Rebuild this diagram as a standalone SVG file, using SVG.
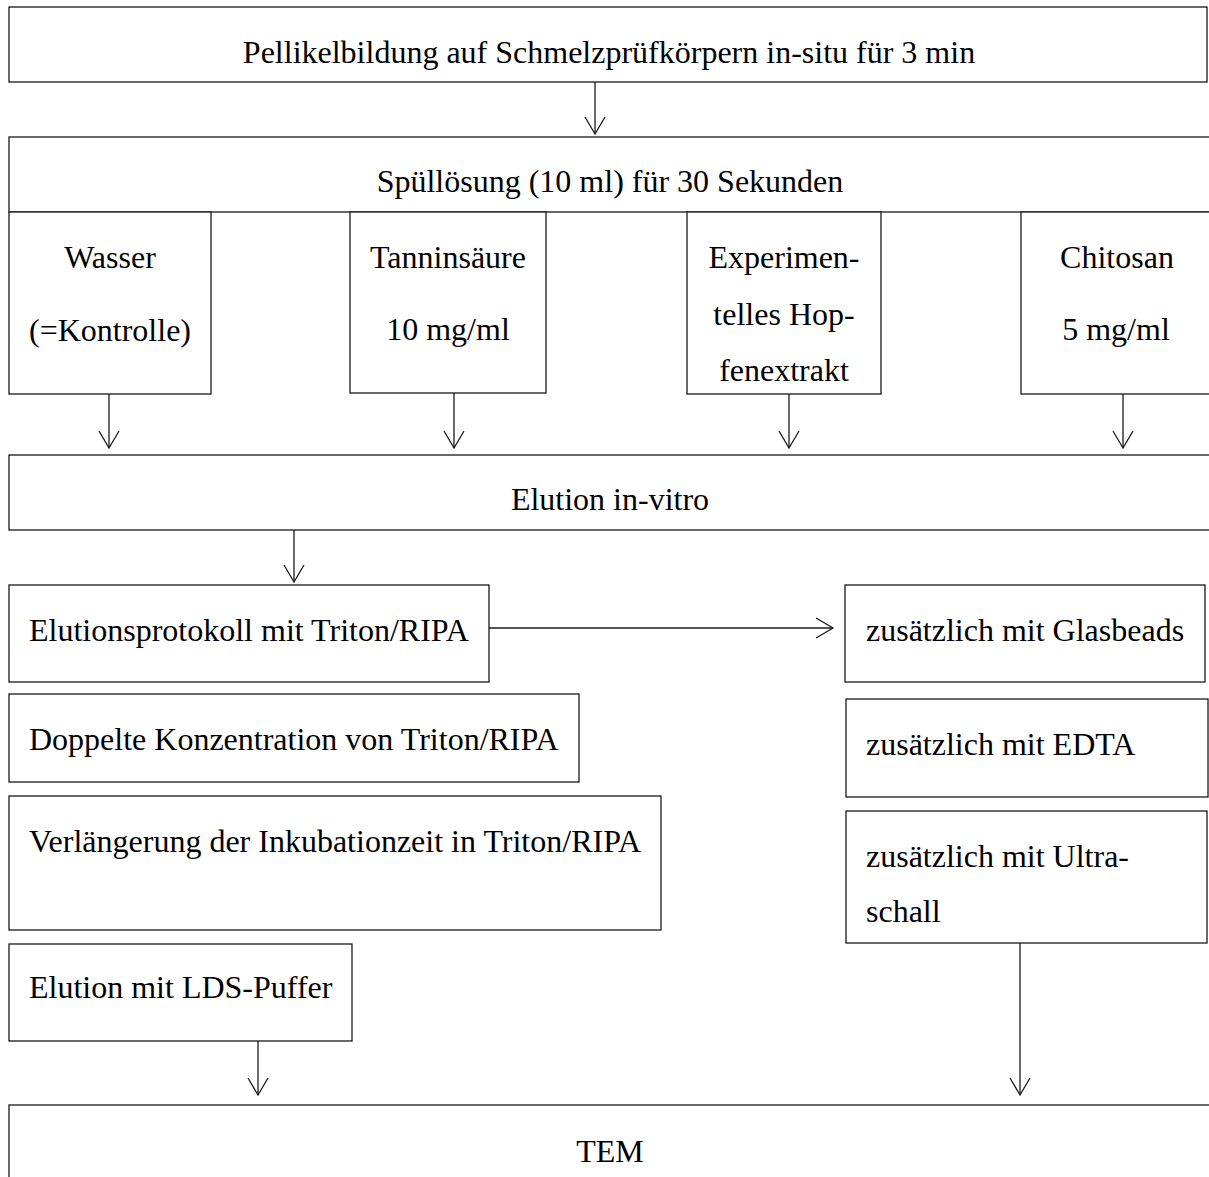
<svg xmlns="http://www.w3.org/2000/svg" width="1209" height="1177" viewBox="0 0 1209 1177">
<style>
  .box { fill: #ffffff; stroke: #1a1a1a; stroke-width: 1.3; }
  .t { font-family: "Liberation Serif", "Times New Roman", serif; font-size: 32px; fill: #000; }
  .c { text-anchor: middle; }
  .conn { stroke: #1a1a1a; stroke-width: 1.3; fill: none; marker-end: url(#arr); }
</style>
<defs>
  <marker id="arr" markerUnits="userSpaceOnUse" markerWidth="22" markerHeight="24" viewBox="-19 -12 22 24" refX="0" refY="0" orient="auto">
    <path d="M-17,-10 L0,0 L-17,10" fill="none" stroke="#1a1a1a" stroke-width="1.3"/>
  </marker>
</defs>
<rect width="1209" height="1177" fill="#ffffff"/>

<g id="n-pellikel">
  <rect class="box" x="9" y="7" width="1198" height="75"/>
  <text class="t c" x="609" y="63">Pellikelbildung auf Schmelzprüfkörpern in-situ für 3 min</text>
</g>
<g id="n-spuel">
  <rect class="box" x="9" y="137" width="1210" height="75"/>
  <text class="t c" x="610" y="192">Spüllösung (10 ml) für 30 Sekunden</text>
</g>
<g id="n-wasser">
  <rect class="box" x="9" y="212" width="202" height="182"/>
  <text class="t c" x="110" y="268">Wasser</text>
  <text class="t c" x="110" y="341">(=Kontrolle)</text>
</g>
<g id="n-tannin">
  <rect class="box" x="350" y="212" width="196" height="181"/>
  <text class="t c" x="448" y="268">Tanninsäure</text>
  <text class="t c" x="448" y="340">10 mg/ml</text>
</g>
<g id="n-hopfen">
  <rect class="box" x="687" y="212" width="194" height="182"/>
  <text class="t c" x="784" y="268">Experimen-</text>
  <text class="t c" x="784" y="325">telles Hop-</text>
  <text class="t c" x="784" y="381">fenextrakt</text>
</g>
<g id="n-chitosan">
  <rect class="box" x="1021" y="212" width="200" height="182"/>
  <text class="t c" x="1117" y="268">Chitosan</text>
  <text class="t c" x="1116" y="340">5 mg/ml</text>
</g>
<g id="n-elution">
  <rect class="box" x="9" y="455" width="1210" height="75"/>
  <text class="t c" x="610" y="510">Elution in-vitro</text>
</g>
<g id="n-triton">
  <rect class="box" x="9" y="585" width="480" height="97"/>
  <text class="t" x="29" y="641">Elutionsprotokoll mit Triton/RIPA</text>
</g>
<g id="n-doppelt">
  <rect class="box" x="9" y="694" width="570" height="88"/>
  <text class="t" x="29" y="750">Doppelte Konzentration von Triton/RIPA</text>
</g>
<g id="n-verlaengerung">
  <rect class="box" x="9" y="796" width="652" height="134"/>
  <text class="t" x="29" y="852">Verlängerung der Inkubationzeit in Triton/RIPA</text>
</g>
<g id="n-lds">
  <rect class="box" x="9" y="944" width="343" height="97"/>
  <text class="t" x="29" y="998">Elution mit LDS-Puffer</text>
</g>
<g id="n-glasbeads">
  <rect class="box" x="845" y="585" width="360" height="97"/>
  <text class="t" x="866" y="641">zusätzlich mit Glasbeads</text>
</g>
<g id="n-edta">
  <rect class="box" x="846" y="699" width="362" height="98"/>
  <text class="t" x="866" y="755">zusätzlich mit EDTA</text>
</g>
<g id="n-ultraschall">
  <rect class="box" x="846" y="811" width="361" height="132"/>
  <text class="t" x="866" y="867">zusätzlich mit Ultra-</text>
  <text class="t" x="866" y="922">schall</text>
</g>
<g id="n-tem">
  <rect class="box" x="9" y="1105" width="1210" height="90"/>
  <text class="t c" x="610" y="1162">TEM</text>
</g>

<g id="connectors">
  <line class="conn" x1="595" y1="82" x2="595" y2="134"/>
  <line class="conn" x1="109" y1="394" x2="109" y2="448"/>
  <line class="conn" x1="454" y1="393" x2="454" y2="448"/>
  <line class="conn" x1="789" y1="394" x2="789" y2="448"/>
  <line class="conn" x1="1123" y1="394" x2="1123" y2="448"/>
  <line class="conn" x1="294" y1="530" x2="294" y2="582"/>
  <line class="conn" x1="489" y1="628" x2="833" y2="628"/>
  <line class="conn" x1="258" y1="1041" x2="258" y2="1095"/>
  <line class="conn" x1="1020" y1="943" x2="1020" y2="1095"/>
</g>
</svg>
